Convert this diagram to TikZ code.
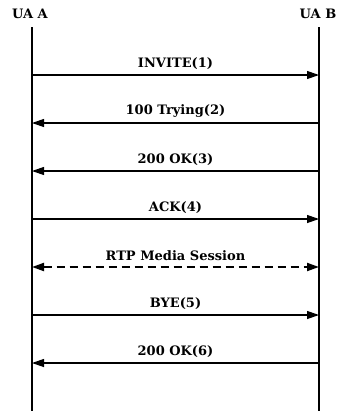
\documentclass[tikz,border=0pt]{standalone}
\usepackage{fontspec}
\setmainfont{DejaVu Serif}
\usetikzlibrary{arrows.meta}
\tikzset{
  lifeline/.style={line width=2.6pt},
  msg/.style={-{Triangle[length=12pt,width=8pt]},line width=1.2pt},
  media/.style={{Triangle[length=12pt,width=8pt]}-{Triangle[length=12pt,width=8pt]},line width=2pt,dash pattern=on 8pt off 5pt},
  lbl/.style={font=\bfseries\fontsize{13}{15}\selectfont,inner sep=1pt},
  msglbl/.style={lbl,above=4pt,midway}
}
\begin{document}
\begin{tikzpicture}[x=1pt,y=-1pt]
  \useasboundingbox (0,0) rectangle (341,413);
  \node[lbl] (uaA) at (30,14) {UA A};
  \node[lbl] (uaB) at (318,14) {UA B};
  \coordinate (Atop) at (32,27);
  \coordinate (Abot) at (32,411);
  \coordinate (Btop) at (319,27);
  \coordinate (Bbot) at (319,411);
  \draw[lifeline] (Atop) -- (Abot);
  \draw[lifeline] (Btop) -- (Bbot);
  % message rows
  \foreach \n/\y in {1/75,2/123,3/171,4/219,5/267,6/315,7/363}{
    \coordinate (a\n) at (32,\y);
    \coordinate (b\n) at (319,\y);
  }
  \draw[msg] (a1) -- (b1) node[msglbl] {INVITE(1)};
  \draw[msg] (b2) -- (a2) node[msglbl] {100 Trying(2)};
  \draw[msg] (b3) -- (a3) node[msglbl] {200 OK(3)};
  \draw[msg] (a4) -- (b4) node[msglbl] {ACK(4)};
  \draw[media] (a5) -- (b5) node[msglbl] {RTP Media Session};
  \draw[msg] (a6) -- (b6) node[msglbl] {BYE(5)};
  \draw[msg] (b7) -- (a7) node[msglbl] {200 OK(6)};
\end{tikzpicture}
\end{document}
